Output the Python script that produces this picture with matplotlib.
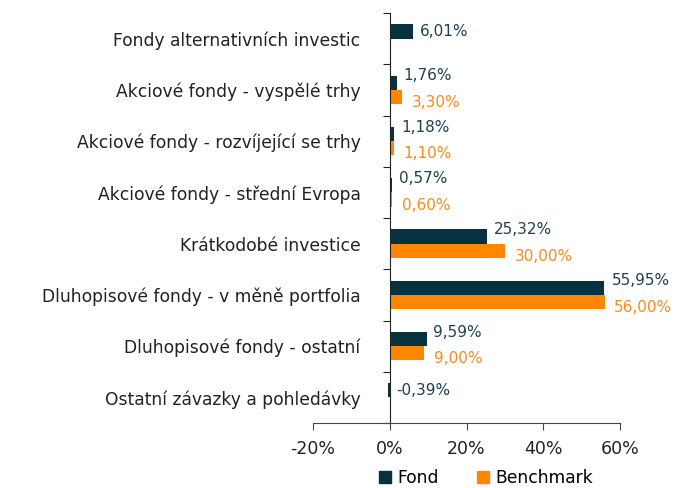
import matplotlib.pyplot as plt
import numpy as np
from matplotlib.patches import Patch

# data
categories = ['Fondy alternativních investic',
              'Akciové fondy - vyspělé trhy',
              'Akciové fondy - rozvíjející se trhy',
              'Akciové fondy - střední Evropa',
              'Krátkodobé investice',
              'Dluhopisové fondy - v měně portfolia',
              'Dluhopisové fondy - ostatní',
              'Ostatní závazky a pohledávky']
fond = [6.01, 1.76, 1.18, 0.57, 25.32, 55.95, 9.59, -0.39]
benchmark = [None, 3.30, 1.10, 0.60, 30.00, 56.00, 9.00, None]

c_fond = '#06323f'
c_bench = '#ff8600'
c_fond_txt = '#1d4150'
c_bench_txt = '#f78a22'

plt.rcParams['font.family'] = 'DejaVu Sans'

fig = plt.figure(figsize=(6.78, 4.88), dpi=100)
ax = fig.add_axes([313/678, 1-423/488, (620-313)/678, 410/488])

n = len(categories)
y = np.arange(n)
h = 0.28

def fmt(v):
    return ('%.2f' % v).replace('.', ',') + '%'

for i in range(n):
    ax.barh(y[i] - h/2, fond[i], height=h, color=c_fond)
    if benchmark[i] is None:
        dy = 0
    else:
        dy = 5
    ax.annotate(fmt(fond[i]), (max(fond[i], 0), y[i] - h/2), xytext=(5, dy),
                textcoords='offset points', va='center', ha='left',
                color=c_fond_txt, fontsize=11)
    if benchmark[i] is not None:
        ax.barh(y[i] + h/2, benchmark[i], height=h, color=c_bench)
        ax.annotate(fmt(benchmark[i]), (benchmark[i], y[i] + h/2), xytext=(7, -4),
                    textcoords='offset points', va='center', ha='left',
                    color=c_bench_txt, fontsize=11)

ax.set_xlim(-20, 60)
ax.set_ylim(n - 0.5, -0.5)
ax.set_xticks([-20, 0, 20, 40, 60])
ax.set_xticklabels(['-20%', '0%', '20%', '40%', '60%'], fontsize=12.5, color='#222222')
ax.tick_params(axis='x', length=5, color='#444444', pad=7)

# y axis sits at 0, ticks between categories, labels at centres
ax.spines['left'].set_position(('data', 0))
ax.spines['top'].set_visible(False)
ax.spines['right'].set_visible(False)
ax.spines['left'].set_color('#222222')
ax.spines['bottom'].set_color('#444444')
ax.set_yticks(np.arange(n + 1) - 0.5)
ax.set_yticklabels([])
ax.tick_params(axis='y', which='major', length=5, color='#222222')
ax.set_yticks(y, minor=True)
ax.set_yticklabels(categories, minor=True, fontsize=12.3, color='#222222')
ax.tick_params(axis='y', which='minor', length=0, pad=21)

handles = [Patch(color=c_fond, label='Fond'), Patch(color=c_bench, label='Benchmark')]
fig.legend(handles=handles, loc='lower center', bbox_to_anchor=(0.717, -0.03), ncol=2,
           frameon=False, fontsize=12.3, handlelength=0.7, handleheight=0.7,
           handletextpad=0.4, columnspacing=2.2)

fig.savefig('out.png', dpi=100)
